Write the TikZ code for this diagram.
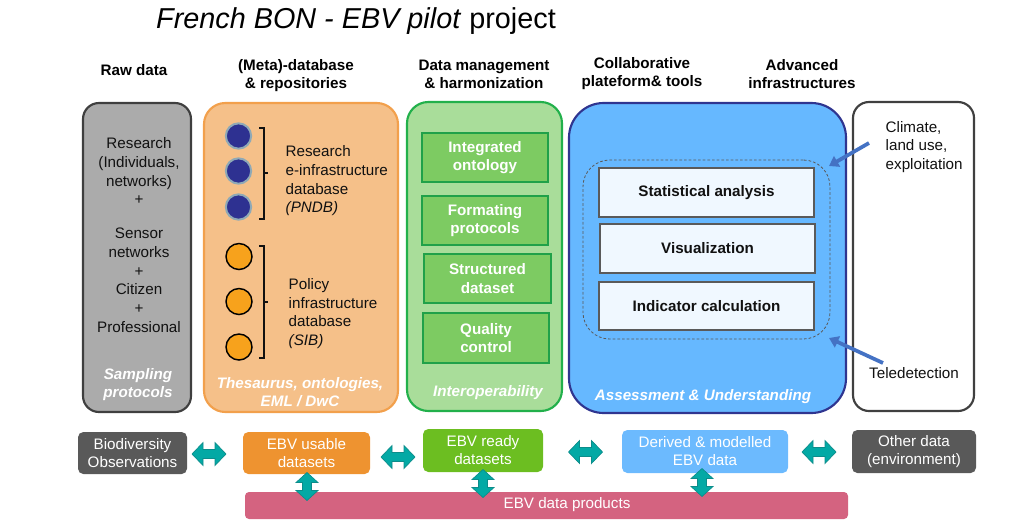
\documentclass[tikz,border=0pt]{standalone}
\usepackage{fontspec}
\setmainfont{Liberation Sans}
\usetikzlibrary{fit,arrows.meta,calc}
\definecolor{grayF}{HTML}{ABABAB}
\definecolor{grayE}{HTML}{3F3F3F}
\definecolor{orF}{HTML}{F5C089}
\definecolor{orE}{HTML}{F2A04C}
\definecolor{grF}{HTML}{A9DD9A}
\definecolor{grE}{HTML}{22B04B}
\definecolor{blF}{HTML}{66B8FF}
\definecolor{blE}{HTML}{2F3590}
\definecolor{whE}{HTML}{404040}
\definecolor{gInner}{HTML}{7DCB62}
\definecolor{gInnerEdge}{HTML}{20A149}
\definecolor{bInner}{HTML}{F0F8FF}
\definecolor{bInnerEdge}{HTML}{5A5A5A}
\definecolor{navyC}{HTML}{2E3191}
\definecolor{navyEdge}{HTML}{8FA9B6}
\definecolor{orC}{HTML}{F7A21C}
\definecolor{arrowBlue}{HTML}{4472C4}
\definecolor{bioC}{HTML}{595959}
\definecolor{usableC}{HTML}{EE9330}
\definecolor{readyC}{HTML}{6CBE21}
\definecolor{derivedC}{HTML}{6CBAFE}
\definecolor{pinkC}{HTML}{D46380}
\definecolor{tealA}{HTML}{03A9A5}
\definecolor{tealB}{HTML}{0C8C8A}
\definecolor{txt}{HTML}{111111}
\begin{document}
\begin{tikzpicture}[x=0.75pt,y=-0.75pt,
  base/.style={font=\fontsize{11.4}{14}\selectfont, text=txt},
  head/.style={font=\fontsize{11.4}{13.5}\selectfont\bfseries, align=center, text=black},
  colbox/.style={inner sep=0pt, line width=1.6pt},
  foot/.style={font=\fontsize{11.4}{13.5}\selectfont\bfseries\itshape, text=white, align=center},
  greenbox/.style={inner sep=0pt, fill=gInner, draw=gInnerEdge, line width=1.6pt},
  greentext/.style={font=\fontsize{11.4}{14}\selectfont\bfseries, text=white, align=center},
  bluebox/.style={inner sep=0pt, fill=bInner, draw=bInnerEdge, line width=0.9pt},
  bluetext/.style={font=\fontsize{11.4}{14}\selectfont\bfseries, text=txt},
  datbox/.style={inner sep=0pt, rounded corners=4pt},
  dattext/.style={font=\fontsize{11.4}{13.5}\selectfont, text=white, align=center},
  navy/.style={circle, minimum size=19pt, inner sep=0pt, fill=navyC, draw=navyEdge, line width=1.5pt},
  orng/.style={circle, minimum size=19.5pt, inner sep=0pt, fill=orC, draw=black, line width=1.1pt},
  brk/.style={line width=0.8pt, draw=txt},
  infl/.style={draw=arrowBlue, line width=2.8pt, -{Triangle[length=7pt,width=9pt]}},
  harrow/.pic={\path[fill=tealA, draw=tealB, line width=0.5pt] (-17,0) -- (-6,-11.5) -- (-6,-4.5) -- (6,-4.5) -- (6,-11.5) -- (17,0) -- (6,11.5) -- (6,4.5) -- (-6,4.5) -- (-6,11.5) -- cycle;},
  varrow/.pic={\path[fill=tealA, draw=tealB, line width=0.5pt] (0,-14) -- (11,-4) -- (4.5,-4) -- (4.5,4) -- (11,4) -- (0,14) -- (-11,4) -- (-4.5,4) -- (-4.5,-4) -- (-11,-4) -- cycle;}
]
\useasboundingbox (0,0) rectangle (1010,526);

% title
\node[font=\fontsize{21.6}{26}\selectfont, text=black] (title) at (356,21) {\textit{French BON - EBV pilot} project};

% headers
\node[head] (h1) at (134,70) {Raw data};
\node[head] (h2) at (296,76) {(Meta)-database\\\& repositories};
\node[head] (h3) at (484,74) {Data management\\\& harmonization};
\node[head] (h4) at (642,74) {Collaborative\\plateform\& tools};
\node[head] (h5) at (802,74) {Advanced\\infrastructures};

% column boxes
\node[colbox, fit={(83,103) (191,412)}, fill=grayF, draw=grayE, rounded corners=12pt] (raw) {};
\node[colbox, fit={(204,103) (398,412)}, fill=orF, draw=orE, rounded corners=16pt] (meta) {};
\node[colbox, fit={(407,102) (562,411)}, fill=grF, draw=grE, rounded corners=16pt] (mgmt) {};
\node[colbox, fit={(569,103) (846,413)}, fill=blF, draw=blE, rounded corners=26pt] (collab) {};
\node[colbox, fit={(853,102) (974,411)}, fill=white, draw=whE, rounded corners=12pt] (adv) {};

% raw data column
\node[base, align=center] (rawtxt) at (139,235) {Research\\(Individuals,\\networks)\\+\\[11.5pt]Sensor\\networks\\+\\Citizen\\+\\Professional};
\node[foot] (rawfoot) at (138,384.5) {Sampling\\protocols};

% meta column
\node[navy] (n1) at (238.5,136) {};
\node[navy] (n2) at (238.5,171) {};
\node[navy] (n3) at (238.5,207) {};
\node[orng] (o1) at (239,256.5) {};
\node[orng] (o2) at (239,301.5) {};
\node[orng] (o3) at (239,347) {};
\draw[brk] (259,128) -- (264,128) -- (264,219) -- (259,219);
\draw[brk] (264,173) -- (268,173);
\draw[brk] (259,246) -- (264,246) -- (264,358) -- (259,358);
\draw[brk] (264,302) -- (268,302);
\node[base, align=left, anchor=west] (pndb) at (281,181) {Research\\e-infrastructure\\database\\\textit{(PNDB)}};
\node[base, align=left, anchor=west] (sib) at (284,313.5) {Policy\\infrastructure\\database\\\textit{(SIB)}};
\node[foot] (metafoot) at (300,392) {Thesaurus, ontologies,\\EML / DwC};

% management column
\node[greenbox, fit={(422,133) (548,182)}] (g1) {};
\node[greenbox, fit={(422,196) (548,245)}] (g2) {};
\node[greenbox, fit={(424,254) (551,303)}] (g3) {};
\node[greenbox, fit={(423,313) (549,363)}] (g4) {};
\node[greentext] (g1t) at (g1.center) {Integrated\\ontology};
\node[greentext] (g2t) at (g2.center) {Formating\\protocols};
\node[greentext] (g3t) at (g3.center) {Structured\\dataset};
\node[greentext] (g4t) at (g4.center) {Quality\\control};
\node[foot] (mgmtfoot) at (488,393) {Interoperability};

% collaborative column
\node[inner sep=0pt, fit={(583,160) (830,339)}, draw=bInnerEdge, line width=0.6pt, dash pattern=on 2pt off 1.5pt, rounded corners=20pt] (dash) {};
\node[bluebox, fit={(599,168) (814,217)}] (b1) {};
\node[bluebox, fit={(600,224) (815,273)}] (b2) {};
\node[bluebox, fit={(599,282) (814,330)}] (b3) {};
\node[bluetext] (b1t) at (b1.center) {Statistical analysis};
\node[bluetext] (b2t) at (b2.center) {Visualization};
\node[bluetext] (b3t) at (b3.center) {Indicator calculation};
\node[foot] (collabfoot) at (703,397) {Assessment \& Understanding};

% advanced column
\node[base, align=left, anchor=west] (climate) at (881,147) {Climate,\\land use,\\exploitation};
\node[base] (tele) at (914,373) {Teledetection};
\coordinate (c1) at (869,143);
\coordinate (d1) at (829,166);
\coordinate (c2) at (883,363);
\coordinate (d2) at (829,338);
\draw[infl] (c1) -- (d1);
\draw[infl] (c2) -- (d2);

% bottom row
\node[datbox, fit={(78,432) (187,474)}, fill=bioC] (bio) {};
\node[datbox, fit={(243,432) (370,474)}, fill=usableC] (usable) {};
\node[datbox, fit={(423,429) (543,472)}, fill=readyC] (ready) {};
\node[datbox, fit={(622,430) (788,473)}, fill=derivedC] (derived) {};
\node[datbox, fit={(852,430) (976,473)}, fill=bioC] (other) {};
\node[datbox, rounded corners=3pt, fit={(245,492) (848,519)}, fill=pinkC] (products) {};
\node[dattext] (biot) at (bio.center) {Biodiversity\\Observations};
\node[dattext] (usablet) at (usable.center) {EBV usable\\datasets};
\node[dattext] (readyt) at (ready.center) {EBV ready\\datasets};
\node[dattext] (derivedt) at (derived.center) {Derived \& modelled\\EBV data};
\node[dattext] (othert) at (other.center) {Other data\\(environment)};
\node[dattext] (prodtxt) at (567,505) {EBV data products};

\pic at (209,454) {harrow};
\pic at (398,457) {harrow};
\pic at (585.5,452) {harrow};
\pic at (819,452) {harrow};
\pic at (307,486.5) {varrow};
\pic at (483,483.5) {varrow};
\pic at (702,482.5) {varrow};
\end{tikzpicture}
\end{document}
